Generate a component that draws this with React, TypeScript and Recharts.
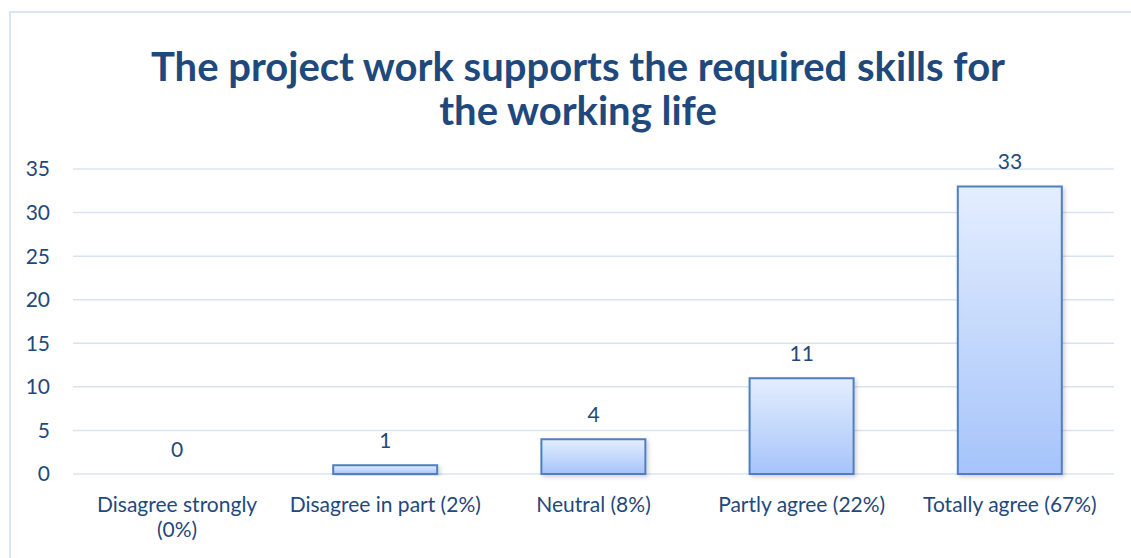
import React from "react";
import { ComposedChart, Bar, Line, XAxis, YAxis, CartesianGrid, LabelList } from "recharts";

const categories = [
  "Disagree strongly\n(0%)",
  "Disagree in part (2%)",
  "Neutral (8%)",
  "Partly agree (22%)",
  "Totally agree (67%)",
];
const counts = [0, 1, 4, 11, 33];
const yTicks = [0, 5, 10, 15, 20, 25, 30, 35];
const titleLines = ["The project work supports the required skills for", "the working life"];

const data = categories.map((c, i) => ({ name: c, value: counts[i] }));

const TEXT = "#1f497d";
const FONT = "Lato, 'Open Sans', sans-serif";

const XTick = (props: any) => {
  const { x, payload } = props;
  const lines = String(payload.value).split("\n");
  return (
    <text x={x} y={512} textAnchor="middle" fill={TEXT} fontSize={21} fontFamily={FONT}>
      {lines.map((l, i) => (
        <tspan key={i} x={x} dy={i === 0 ? 0 : 25}>
          {l}
        </tspan>
      ))}
    </text>
  );
};

export default function App() {
  return (
    <div
      style={{
        position: "fixed",
        left: 0,
        top: 0,
        width: 1131,
        height: 558,
        overflow: "hidden",
        background: "#fff",
        fontFamily: FONT,
      }}
    >
      <div
        style={{
          position: "absolute",
          left: 9,
          top: 11,
          width: 1200,
          height: 700,
          border: "2px solid #d9e5f3",
          boxSizing: "border-box",
        }}
      />
      <div
        style={{
          position: "absolute",
          left: 78,
          width: 1000,
          top: 44,
          textAlign: "center",
          color: TEXT,
          fontWeight: 700,
          fontSize: 40,
          lineHeight: "44px",
        }}
      >
        {titleLines.map((t, i) => (
          <div key={i}>{t}</div>
        ))}
      </div>
      <div style={{ position: "absolute", left: 0, top: 0 }}>
        <ComposedChart
          width={1131}
          height={558}
          data={data}
          margin={{ top: 169, right: 17, bottom: 24, left: 0 }}
          barSize={104}
        >
          <defs>
            <linearGradient id="barGrad" x1="0" y1="0" x2="0" y2="1">
              <stop offset="0%" stopColor="#e4eefe" />
              <stop offset="100%" stopColor="#a6c4fa" />
            </linearGradient>
            <filter id="shadow" x="-10%" y="-10%" width="130%" height="130%">
              <feDropShadow dx="2" dy="2" stdDeviation="2" floodColor="#000" floodOpacity="0.18" />
            </filter>
          </defs>
          <CartesianGrid vertical={false} stroke="#d9e4f3" strokeWidth={1.5} />
          <XAxis
            dataKey="name"
            axisLine={false}
            tickLine={false}
            height={60}
            interval={0}
            tick={<XTick />}
          />
          <YAxis
            domain={[0, 35]}
            ticks={yTicks}
            axisLine={false}
            tickLine={false}
            width={73}
            tickMargin={17}
            tick={{ fill: TEXT, fontSize: 21, fontFamily: FONT }}
          />
          <Bar
            dataKey="value"
            fill="url(#barGrad)"
            stroke="#4f7fbf"
            strokeWidth={2}
            filter="url(#shadow)"
            isAnimationActive={false}
          />
          <Line
            dataKey="value"
            stroke="none"
            dot={false}
            activeDot={false}
            isAnimationActive={false}
          >
            <LabelList
              dataKey="value"
              position="top"
              offset={17}
              fill={TEXT}
              fontSize={21}
              fontFamily={FONT}
            />
          </Line>
        </ComposedChart>
      </div>
    </div>
  );
}
